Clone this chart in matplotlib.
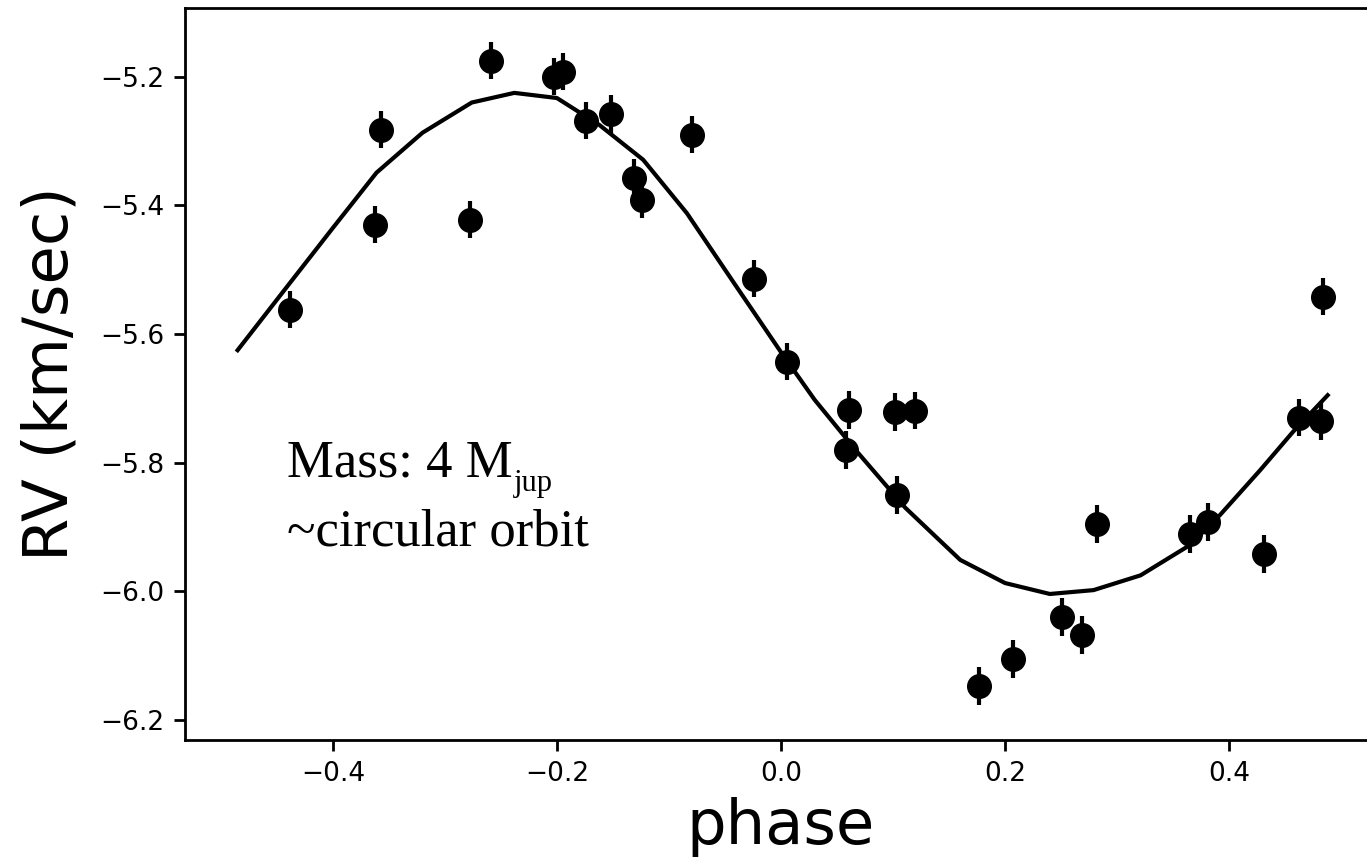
import matplotlib
matplotlib.use("Agg")
import matplotlib.pyplot as plt

# observed radial velocities, folded on the orbital period
phase = [-0.438, -0.362, -0.357, -0.278, -0.259, -0.203, -0.195, -0.174, -0.152, -0.131,
         -0.124, -0.079, -0.024, 0.005, 0.061, 0.058, 0.102, 0.120, 0.104, 0.177,
         0.207, 0.251, 0.269, 0.282, 0.365, 0.381, 0.431, 0.462, 0.482, 0.484]
rv = [-5.562, -5.430, -5.282, -5.422, -5.175, -5.200, -5.192, -5.268, -5.258, -5.357,
      -5.391, -5.290, -5.514, -5.643, -5.718, -5.780, -5.721, -5.719, -5.850, -6.147,
      -6.105, -6.040, -6.068, -5.895, -5.911, -5.892, -5.942, -5.730, -5.735, -5.542]
rv_err = [0.029, 0.029, 0.029, 0.029, 0.029, 0.029, 0.029, 0.029, 0.029, 0.029,
          0.029, 0.029, 0.029, 0.029, 0.029, 0.029, 0.029, 0.029, 0.029, 0.029,
          0.029, 0.029, 0.029, 0.029, 0.029, 0.029, 0.029, 0.029, 0.029, 0.029]

# fitted orbit (as drawn)
model_phase = [-0.485, -0.443, -0.400, -0.361, -0.320, -0.276, -0.238, -0.200, -0.162, -0.123,
               -0.084, -0.041, 0.000, 0.030, 0.068, 0.111, 0.160, 0.200, 0.240, 0.279,
               0.321, 0.365, 0.392, 0.428, 0.457, 0.488]
model_rv = [-5.625, -5.531, -5.435, -5.349, -5.287, -5.240, -5.225, -5.233, -5.275, -5.329,
            -5.412, -5.523, -5.628, -5.702, -5.783, -5.870, -5.951, -5.987, -6.004, -5.998,
            -5.975, -5.928, -5.881, -5.811, -5.752, -5.695]

fig = plt.figure(figsize=(13.67, 8.66), dpi=100)
ax = fig.add_axes([0.1353, 0.1455, 0.872, 0.8453])

ax.plot(model_phase, model_rv, color="black", linewidth=3.0, zorder=2)
ax.errorbar(phase, rv, yerr=rv_err, fmt="o", color="black", markersize=17,
            elinewidth=3, capsize=0, zorder=3)

ax.set_xlim(-0.532, 0.532)
ax.set_ylim(-6.231, -5.093)
ax.set_xticks([-0.4, -0.2, 0.0, 0.2, 0.4])
ax.set_yticks([-6.2, -6.0, -5.8, -5.6, -5.4, -5.2])

for s in ax.spines.values():
    s.set_linewidth(2.0)
ax.tick_params(labelsize=19, width=2, length=8, pad=7)

ax.set_xlabel("phase", fontsize=45, labelpad=7)
ax.set_ylabel("RV (km/sec)", fontsize=45, labelpad=14)

# annotation, with "jup" as a small lowered subscript
mass = ax.text(-0.441, -5.822, "Mass: 4 M", fontsize=38,
               family="Liberation Serif", va="baseline")
ax.annotate("jup", xy=(1, 0), xycoords=mass, xytext=(1, -2.5),
            textcoords="offset points", fontsize=22,
            family="Liberation Serif", va="baseline")
ax.text(-0.441, -5.929, "~circular orbit", fontsize=38,
        family="Liberation Serif", va="baseline")

fig.savefig("out.png", dpi=100)
